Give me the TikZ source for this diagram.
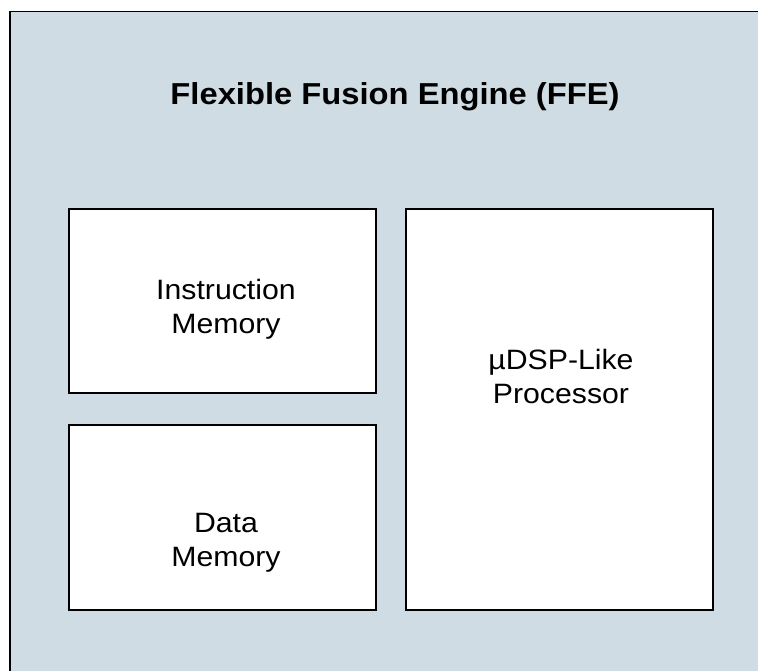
\documentclass[tikz,border=0pt]{standalone}
\usepackage{fontspec}
\setmainfont[FakeStretch=1.08]{Liberation Sans}
\definecolor{ffebg}{RGB}{207,220,227}
\begin{document}
\begin{tikzpicture}[x=1pt,y=-1pt,
  blk/.style={draw=black,line width=1.5pt,fill=white,inner sep=0pt,minimum width=307pt},
  lbl/.style={align=center,anchor=base,inner sep=0pt,font=\fontsize{28}{34}\selectfont},
  ttl/.style={anchor=base,inner sep=0pt,font=\fontsize{30.3}{36}\selectfont\bfseries}]
\useasboundingbox (0,0) rectangle (758,671);
\node[draw=black,line width=1.5pt,fill=ffebg,inner sep=0pt,minimum width=800pt,minimum height=700pt,anchor=north west] (ffe) at (9,11) {};
\node[ttl] (title) at (395,105) {Flexible Fusion Engine (FFE)};
\node[blk,minimum height=184pt] (imem) at (222.5,301) {};
\node[blk,minimum height=185pt] (dmem) at (222.5,517.5) {};
\node[blk,minimum height=401pt] (proc) at (559.5,409.5) {};
\node[lbl] (imemt) at (226,333) {Instruction\\Memory};
\node[lbl] (dmemt) at (226,566) {Data\\Memory};
\node[lbl] (proct) at (561,403.5) {µDSP-Like\\Processor};
\end{tikzpicture}
\end{document}
